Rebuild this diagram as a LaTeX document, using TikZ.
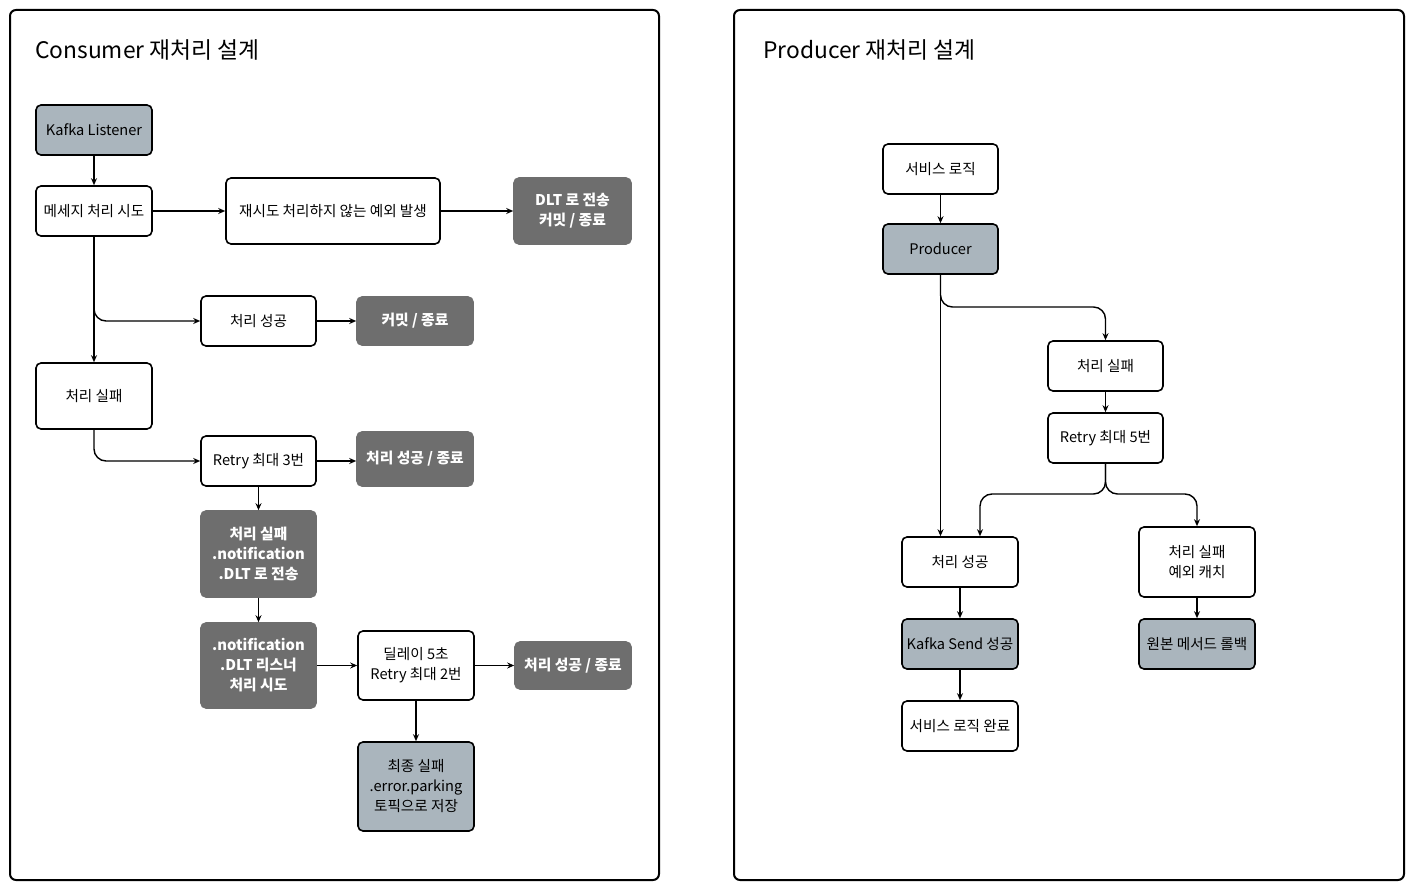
\documentclass[tikz,border=0pt]{standalone}
\usepackage{fontspec}
\setmainfont{Noto Sans CJK KR}
\usetikzlibrary{arrows.meta}
\definecolor{bluegray}{HTML}{AAB5BD}
\definecolor{darkbox}{HTML}{6E6E6E}
\tikzset{
  base/.style={rounded corners=5pt, align=center, inner sep=2pt,
    font=\fontsize{14.6}{20}\selectfont, line width=1.6pt},
  wbox/.style={base, draw=black, fill=white},
  gbox/.style={base, draw=black, fill=bluegray},
  dbox/.style={base, draw=darkbox, fill=darkbox, text=white, font=\fontsize{14.8}{20}\selectfont\bfseries},
  arr/.style={-{Stealth[length=7pt,width=6pt]}, line width=1.4pt, rounded corners=12pt},
  panel/.style={draw=black, line width=2pt, rounded corners=6pt},
  title/.style={anchor=west, font=\fontsize{22.8}{26}\selectfont, inner sep=0pt},
  sz/.style 2 args={minimum width=#1pt, minimum height=#2pt}
}
\begin{document}
\begin{tikzpicture}[x=1pt,y=-1pt]
\useasboundingbox (0,0) rectangle (1416,890);
\fill[white] (0,0) rectangle (1416,890);
% panels
\draw[panel] (10,10) rectangle (659,880);
\draw[panel] (734,10) rectangle (1404,880);
\node[title] (t1) at (35,50) {Consumer 재처리 설계};
\node[title] (t2) at (763,50) {Producer 재처리 설계};

% ---- Consumer ----
\node[gbox, sz={116}{50}] (kl) at (94,130) {Kafka Listener};
\node[wbox, sz={116}{50}] (msg) at (94,211) {메세지 처리 시도};
\node[wbox, sz={214}{66}] (nr) at (333,211) {재시도 처리하지 않는 예외 발생};
\node[dbox, sz={117}{66}] (dlt) at (572.5,211) {DLT 로 전송\\커밋 / 종료};
\node[wbox, sz={115}{50}] (ok) at (258.5,321) {처리 성공};
\node[dbox, sz={116}{48}] (cm) at (415,321) {커밋 / 종료};
\node[wbox, sz={116}{66}] (fail) at (94,396) {처리 실패};
\node[wbox, sz={115}{50}] (r3) at (258.5,461) {Retry 최대 3번};
\node[dbox, sz={116}{54}] (ok3) at (415,459) {처리 성공 / 종료};
\node[dbox, sz={115}{86}] (nd) at (258.5,554) {처리 실패\\.notification\\.DLT 로 전송};
\node[dbox, sz={115}{85}] (nl) at (258.5,665.5) {.notification\\.DLT 리스너\\처리 시도};
\node[wbox, sz={116}{69}] (dl) at (416,665.5) {딜레이 5초\\Retry 최대 2번};
\node[dbox, sz={116}{47}] (ok4) at (573,665.5) {처리 성공 / 종료};
\node[gbox, sz={116}{89}] (fin) at (416,786.5) {최종 실패\\.error.parking\\토픽으로 저장};

\draw[arr] (kl) -- (msg);
\draw[arr] (msg) -- (nr);
\draw[arr] (nr) -- (dlt);
\draw[arr] (msg.south) -- (fail.north);
\draw[arr] (msg.south) |- (ok.west);
\draw[arr] (ok) -- (cm);
\draw[arr] (fail.south) |- (r3.west);
\draw[arr] (r3) -- (r3 -| ok3.west);
\draw[arr] (r3) -- (nd);
\draw[arr] (nd) -- (nl);
\draw[arr] (nl) -- (nl -| dl.west);
\draw[arr] (dl) -- (ok4);
\draw[arr] (dl) -- (fin);

% ---- Producer ----
\node[wbox, sz={115}{50}] (svc) at (940.5,169) {서비스 로직};
\node[gbox, sz={115}{50}] (prod) at (940.5,249) {Producer};
\node[wbox, sz={115}{50}] (pf) at (1105.5,366) {처리 실패};
\node[wbox, sz={115}{50}] (r5) at (1105.5,438) {Retry 최대 5번};
\node[wbox, sz={116}{50}] (ps) at (960,562) {처리 성공};
\node[wbox, sz={116}{70}] (pc) at (1197,562) {처리 실패\\예외 캐치};
\node[gbox, sz={116}{50}] (ks) at (960,644) {Kafka Send 성공};
\node[gbox, sz={116}{50}] (rb) at (1197,644) {원본 메서드 롤백};
\node[wbox, sz={116}{50}] (done) at (960,726) {서비스 로직 완료};

\coordinate (pb) at (1105.5,307);
\coordinate (sp) at (1105.5,494);
\draw[arr] (svc) -- (prod);
\draw[arr] (prod.south) -- (prod.south |- ps.north);
\draw[arr] (prod.south) |- (pb) -- (pf.north);
\draw[arr] (pf) -- (r5);
\draw[arr] (r5.south) -- (sp) -| ([xshift=20pt]ps.north);
\draw[arr] (r5.south) -- (sp) -| (pc.north);
\draw[arr] (ps) -- (ks);
\draw[arr] (ks) -- (done);
\draw[arr] (pc) -- (rb);
\end{tikzpicture}
\end{document}
